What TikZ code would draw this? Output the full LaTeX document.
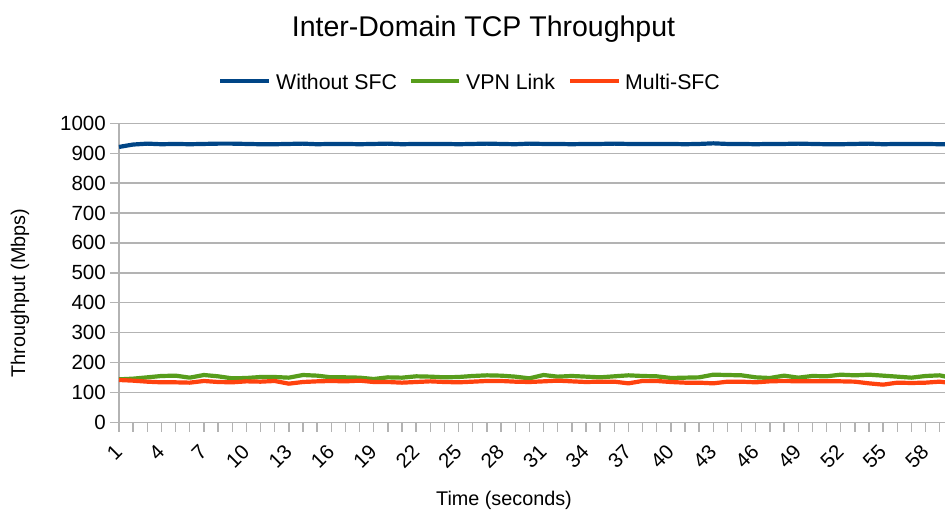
\documentclass[tikz,border=0pt]{standalone}
\usepackage{fontspec}
\setmainfont{Liberation Sans}
\definecolor{sblue}{HTML}{004586}
\definecolor{sgreen}{HTML}{579D1C}
\definecolor{sred}{HTML}{FF420E}
\definecolor{gridc}{HTML}{B3B3B3}
\begin{document}
\begin{tikzpicture}[x=1pt,y=-1pt,
  grid line/.style={draw=gridc, line width=1.4pt},
  series/.style={line width=4.2pt, line join=round},
  tick label/.style={font=\fontsize{20.5}{24}\selectfont, inner sep=0pt},
  legend label/.style={font=\fontsize{21.3}{25}\selectfont, inner sep=0pt, anchor=base west},
]
\useasboundingbox (0,0) rectangle (945,509);
\fill[white] (0,0) rectangle (945,509);
% horizontal gridlines and y tick labels
\foreach \v in {0,100,...,1000} {
  \draw[grid line] (110,{422.3-0.299*\v}) -- (945,{422.3-0.299*\v});
  \node[tick label, anchor=east] (yl\v) at (106,{422.3-0.299*\v}) {\v};
}
% axes
\draw[grid line] (119,123.3) -- (119,432);
\foreach \i in {1,...,60} {
  \draw[grid line] ({119+(\i-1)*14.15},422.3) -- ({119+(\i-1)*14.15},432);
}
\foreach \i in {1,4,...,58} {
  \node[tick label, rotate=45, anchor=east] (xl\i) at ({119+(\i-1)*14.15-0.5},448) {\i};
}
% series
\begin{scope}[shift={(104.85,422.3)}, x=14.15pt, y=0.299pt]
\draw[series, sblue] plot coordinates {(1,921) (2,929) (3,932) (4,930) (5,931) (6,930) (7,931) (8,932) (9,932) (10,931) (11,930) (12,930) (13,931) (14,932) (15,930) (16,931) (17,931) (18,930) (19,931) (20,932) (21,930) (22,931) (23,931) (24,931) (25,930) (26,931) (27,932) (28,931) (29,930) (30,932) (31,931) (32,931) (33,930) (34,931) (35,931) (36,932) (37,931) (38,931) (39,931) (40,931) (41,930) (42,931) (43,933) (44,931) (45,931) (46,930) (47,931) (48,931) (49,932) (50,931) (51,930) (52,930) (53,931) (54,932) (55,930) (56,931) (57,931) (58,931) (59,930) (60,930)};
\draw[series, sgreen] plot coordinates {(1,143.7) (2,146) (3,150.4) (4,154.9) (5,156) (6,149.3) (7,158.2) (8,153.8) (9,147) (10,148.2) (11,151.5) (12,151.5) (13,149.3) (14,158.2) (15,156) (16,150.4) (17,150.4) (18,149.3) (19,144.8) (20,150.4) (21,149.3) (22,153.8) (23,152.7) (24,150.4) (25,151.5) (26,154.9) (27,157.1) (28,156) (29,152.7) (30,147) (31,158.2) (32,152.7) (33,154.9) (34,152.7) (35,150.4) (36,153.8) (37,157.1) (38,154.9) (39,153.8) (40,148.2) (41,149.3) (42,150.4) (43,159.3) (44,158.2) (45,157.1) (46,150.4) (47,148.2) (48,156) (49,149.3) (50,154.9) (51,153.8) (52,159.3) (53,157.1) (54,159.3) (55,156) (56,152.7) (57,149.3) (58,154.9) (59,157.1) (60,147)};
\draw[series, sred] plot coordinates {(1,141.5) (2,139.3) (3,135.9) (4,133.7) (5,133.7) (6,132.6) (7,138.2) (8,134.8) (9,133.7) (10,137) (11,135.9) (12,138.2) (13,129.2) (14,134.8) (15,137) (16,138.2) (17,137) (18,139.3) (19,134.8) (20,134.8) (21,132.6) (22,134.8) (23,137) (24,134.8) (25,133.7) (26,135.9) (27,138.2) (28,138.2) (29,135.9) (30,134.8) (31,137) (32,139.3) (33,137) (34,134.8) (35,135.9) (36,135.9) (37,130.3) (38,138.2) (39,138.2) (40,134.8) (41,132.6) (42,132.6) (43,130.3) (44,135.9) (45,135.9) (46,133.7) (47,137) (48,138.2) (49,137) (50,137) (51,137) (52,137) (53,135.9) (54,130.3) (55,125.9) (56,132.6) (57,131.5) (58,132.6) (59,135.9) (60,130.3)};
\end{scope}
% title and axis titles
\node[font=\fontsize{28.5}{34}\selectfont, anchor=base, inner sep=0pt] (title) at (483.5,36) {Inter-Domain TCP Throughput};
\node[font=\fontsize{19.8}{24}\selectfont, anchor=base, inner sep=0pt] (xtitle) at (504,505.5) {Time (seconds)};
\node[font=\fontsize{19.8}{24}\selectfont, rotate=90, inner sep=0pt] (ytitle) at (20,293) {Throughput (Mbps)};
% legend
\coordinate (lbA) at (220,80.7); \coordinate (lbB) at (269,80.7);
\coordinate (lgA) at (411,80.7); \coordinate (lgB) at (459,80.7);
\coordinate (lrA) at (570,80.7); \coordinate (lrB) at (619,80.7);
\draw[series, sblue] (lbA) -- (lbB);
\draw[series, sgreen] (lgA) -- (lgB);
\draw[series, sred] (lrA) -- (lrB);
\node[legend label] (ltA) at (276,89) {Without SFC};
\node[legend label] (ltB) at (466,89) {VPN Link};
\node[legend label] (ltC) at (625,89) {Multi-SFC};
\end{tikzpicture}
\end{document}
